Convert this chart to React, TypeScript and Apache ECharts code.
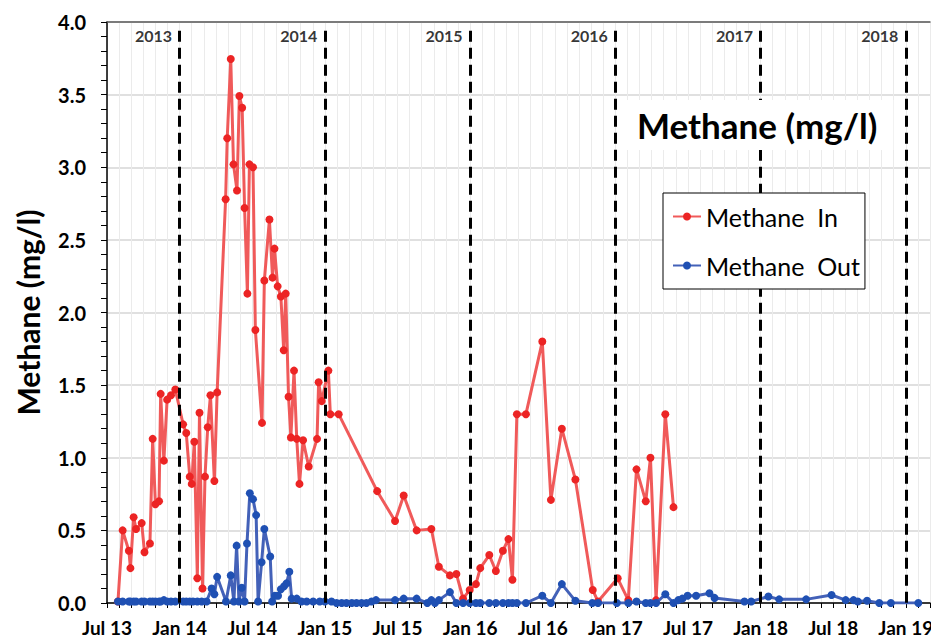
import React, { useEffect, useRef } from "react";
import * as echarts from "echarts";

// Methane In (red) sampling dates and values (mg/l)
const inDates = [
  "2013-07-29", "2013-08-10", "2013-08-26", "2013-08-30", "2013-09-07", "2013-09-13", "2013-09-27", "2013-10-04",
  "2013-10-18", "2013-10-25", "2013-11-01", "2013-11-10", "2013-11-14", "2013-11-22", "2013-11-30", "2013-12-10",
  "2013-12-21", "2014-01-10", "2014-01-18", "2014-01-27", "2014-02-01", "2014-02-07", "2014-02-14", "2014-02-19",
  "2014-02-26", "2014-03-04", "2014-03-11", "2014-03-18", "2014-03-28", "2014-04-04", "2014-04-25", "2014-04-29",
  "2014-05-08", "2014-05-15", "2014-05-24", "2014-05-30", "2014-06-06", "2014-06-12", "2014-06-19", "2014-06-24",
  "2014-07-03", "2014-07-09", "2014-07-26", "2014-08-01", "2014-08-14", "2014-08-22", "2014-08-27", "2014-09-04",
  "2014-09-12", "2014-09-19", "2014-09-24", "2014-10-01", "2014-10-07", "2014-10-15", "2014-10-22", "2014-10-29",
  "2014-11-07", "2014-11-21", "2014-12-12", "2014-12-16", "2014-12-24", "2015-01-10", "2015-01-15", "2015-02-05",
  "2015-05-11", "2015-06-25", "2015-07-17", "2015-08-19", "2015-09-25", "2015-10-14", "2015-11-11", "2015-11-27",
  "2015-12-14", "2015-12-31", "2016-01-16", "2016-01-27", "2016-02-18", "2016-03-05", "2016-03-23", "2016-04-06",
  "2016-04-16", "2016-04-27", "2016-05-20", "2016-06-30", "2016-07-22", "2016-08-19", "2016-09-22", "2016-11-05",
  "2016-11-18", "2017-01-07", "2017-02-03", "2017-02-22", "2017-03-17", "2017-03-29", "2017-04-12", "2017-05-05",
  "2017-05-26",
];
const inValues = [
  0.01, 0.5, 0.36, 0.24, 0.59, 0.51, 0.55, 0.35,
  0.41, 1.13, 0.68, 0.7, 1.44, 0.98, 1.4, 1.43,
  1.47, 1.23, 1.17, 0.87, 0.82, 1.11, 0.17, 1.31,
  0.1, 0.87, 1.21, 1.43, 0.84, 1.45, 2.78, 3.2,
  3.745, 3.02, 2.84, 3.49, 3.41, 2.72, 2.13, 3.02,
  3.0, 1.88, 1.24, 2.22, 2.64, 2.24, 2.44, 2.18,
  2.11, 1.74, 2.13, 1.42, 1.14, 1.6, 1.13, 0.82,
  1.12, 0.94, 1.13, 1.52, 1.39, 1.6, 1.3, 1.3,
  0.77, 0.565, 0.74, 0.5, 0.51, 0.25, 0.19, 0.2,
  0.03, 0.09, 0.13, 0.24, 0.33, 0.22, 0.36, 0.44,
  0.16, 1.3, 1.3, 1.8, 0.71, 1.2, 0.85, 0.09,
  0.01, 0.17, 0.02, 0.92, 0.7, 1.0, 0.02, 1.3,
  0.66,
];

// Methane Out (blue) sampling dates and values (mg/l)
const outDates = [
  "2013-07-29", "2013-08-10", "2013-08-26", "2013-08-30", "2013-09-07", "2013-09-13", "2013-09-27", "2013-10-04",
  "2013-10-18", "2013-10-25", "2013-11-01", "2013-11-10", "2013-11-14", "2013-11-22", "2013-11-30", "2013-12-10",
  "2013-12-21", "2014-01-10", "2014-01-18", "2014-01-27", "2014-02-04", "2014-02-14", "2014-02-24", "2014-03-08",
  "2014-03-21", "2014-03-28", "2014-04-04", "2014-04-26", "2014-05-08", "2014-05-16", "2014-05-23", "2014-05-29",
  "2014-06-05", "2014-06-12", "2014-06-18", "2014-06-25", "2014-07-03", "2014-07-11", "2014-07-16", "2014-07-25",
  "2014-08-01", "2014-08-16", "2014-08-21", "2014-08-28", "2014-09-05", "2014-09-12", "2014-09-20", "2014-09-26",
  "2014-10-03", "2014-10-09", "2014-10-22", "2014-11-03", "2014-11-16", "2014-12-02", "2014-12-19", "2015-01-01",
  "2015-01-18", "2015-01-31", "2015-02-12", "2015-02-23", "2015-03-08", "2015-03-20", "2015-04-02", "2015-04-14",
  "2015-04-27", "2015-05-08", "2015-06-25", "2015-07-17", "2015-08-19", "2015-09-15", "2015-09-25", "2015-10-04",
  "2015-10-14", "2015-11-11", "2015-11-27", "2015-12-14", "2015-12-31", "2016-01-16", "2016-01-27", "2016-02-18",
  "2016-03-05", "2016-03-23", "2016-04-06", "2016-04-16", "2016-04-27", "2016-05-20", "2016-06-30", "2016-07-22",
  "2016-08-19", "2016-09-22", "2016-11-04", "2016-11-18", "2017-01-05", "2017-02-03", "2017-02-22", "2017-03-17",
  "2017-03-29", "2017-04-12", "2017-05-05", "2017-05-26", "2017-06-07", "2017-06-17", "2017-06-30", "2017-07-22",
  "2017-08-25", "2017-09-07", "2017-11-21", "2017-12-08", "2018-01-21", "2018-02-16", "2018-04-24", "2018-06-27",
  "2018-08-02", "2018-08-22", "2018-09-02", "2018-09-25", "2018-10-26", "2018-11-24", "2019-02-02",
];
const outValues = [
  0.01, 0.01, 0.01, 0.01, 0.01, 0.01, 0.01, 0.01,
  0.01, 0.01, 0.01, 0.01, 0.01, 0.02, 0.01, 0.01,
  0.01, 0.01, 0.01, 0.01, 0.01, 0.01, 0.01, 0.01,
  0.1, 0.06, 0.18, 0.01, 0.19, 0.01, 0.395, 0.01,
  0.105, 0.01, 0.41, 0.755, 0.715, 0.605, 0.01, 0.28,
  0.51, 0.32, 0.01, 0.05, 0.05, 0.095, 0.115, 0.135,
  0.215, 0.03, 0.03, 0.01, 0.01, 0.01, 0.01, 0.01,
  0.01, 0.0, 0.0, 0.0, 0.0, 0.0, 0.0, 0.0,
  0.01, 0.02, 0.02, 0.03, 0.03, 0.0, 0.02, 0.0,
  0.02, 0.075, 0.0, 0.0, 0.0, 0.0, 0.0, 0.0,
  0.0, 0.0, 0.0, 0.0, 0.0, 0.0, 0.05, 0.0,
  0.13, 0.015, 0.0, 0.0, 0.0, 0.0, 0.01, 0.0,
  0.0, 0.0, 0.06, 0.0, 0.02, 0.03, 0.05, 0.05,
  0.067, 0.035, 0.01, 0.01, 0.045, 0.025, 0.025, 0.055,
  0.02, 0.02, 0.01, 0.015, 0.0, 0.0, 0.0,
];

// Year annotations: the label sits just left of each January boundary line
const yearLabels = ["2013", "2014", "2015", "2016", "2017", "2018"];
const yearBoundaries = ["2014-01-01", "2015-01-01", "2016-01-01", "2017-01-01", "2018-01-01", "2019-01-01"];

const seriesNames = ["Methane  In", "Methane  Out"];
const axisStart = "2013-07-01";
const axisEnd = "2019-03-01";

const FONT = "Lato";

// months elapsed since July 2013 (fractional)
function toMonth(s: string): number {
  const [y, m, d] = s.split("-").map(Number);
  const dim = new Date(y, m, 0).getDate();
  return (y - 2013) * 12 + (m - 7) + (d - 1) / dim;
}

function monthLabel(v: number): string {
  const idx = Math.round(v);
  if (idx % 6 !== 0) return "";
  const fromJan2013 = idx + 6;
  const year = 2013 + Math.floor(fromJan2013 / 12);
  const mon = fromJan2013 % 12 === 0 ? "Jan" : "Jul";
  return `${mon} ${String(year % 100).padStart(2, "0")}`;
}

export default function App() {
  const ref = useRef<HTMLDivElement>(null);

  useEffect(() => {
    if (!ref.current) return;
    const chart = echarts.init(ref.current, undefined, { renderer: "svg" });
    const xMin = toMonth(axisStart);
    const xMax = toMonth(axisEnd);

    const inData = inDates.map((d, i) => [toMonth(d), inValues[i]]);
    const outData = outDates.map((d, i) => [toMonth(d), outValues[i]]);
    const yearData = yearBoundaries.map((d, i) => [toMonth(d), 3.91, yearLabels[i]]);
    const boundaryLines = yearBoundaries.map((d) => [
      { coord: [toMonth(d), 3.94] },
      { coord: [toMonth(d), 0] },
    ]);

    chart.setOption({
      animation: false,
      backgroundColor: "#fff",
      textStyle: { fontFamily: FONT },
      title: {
        text: "Methane (mg/l)",
        left: 620,
        top: 100,
        padding: [4, 16, 4, 17],
        backgroundColor: "#fff",
        textStyle: { fontFamily: FONT, fontSize: 35, fontWeight: "bold", color: "#000", lineHeight: 42 },
        z: 10,
      },
      legend: {
        data: seriesNames,
        orient: "vertical",
        left: 663,
        top: 193,
        padding: [9, 5, 9, 9],
        itemGap: 20,
        itemWidth: 28,
        itemHeight: 10,
        backgroundColor: "#fff",
        borderColor: "#000",
        borderWidth: 1,
        textStyle: { fontFamily: FONT, fontSize: 25, color: "#000", lineHeight: 29 },
        z: 10,
      },
      grid: {
        left: 107,
        top: 22,
        width: 823,
        height: 581,
        containLabel: false,
        outerBoundsMode: "none",
      },
      xAxis: [
        {
          type: "value",
          min: xMin,
          max: xMax,
          interval: 1,
          axisLine: { show: true, onZero: false, lineStyle: { color: "#000", width: 1.5 } },
          axisTick: { show: true, length: 5, lineStyle: { color: "#000" } },
          axisLabel: {
            formatter: monthLabel,
            fontFamily: FONT,
            fontSize: 19,
            fontWeight: "bold",
            color: "#000",
            margin: 15,
          },
          splitLine: { show: true, lineStyle: { color: "#ebebeb", width: 1 } },
        },
        {
          type: "value",
          position: "top",
          min: xMin,
          max: xMax,
          axisLine: { show: true, onZero: false, lineStyle: { color: "#5a5a5a", width: 1.5 } },
          axisTick: { show: false },
          axisLabel: { show: false },
          splitLine: { show: false },
        },
      ],
      yAxis: {
        type: "value",
        min: 0,
        max: 4,
        interval: 0.5,
        name: "Methane (mg/l)",
        nameLocation: "middle",
        nameGap: 64,
        nameTextStyle: { fontFamily: FONT, fontSize: 30, fontWeight: "bold", color: "#000" },
        axisLine: { show: true, lineStyle: { color: "#000", width: 1.5 } },
        axisTick: { show: true, length: 6, lineStyle: { color: "#000" } },
        minorTick: { show: true, splitNumber: 5, length: 6, lineStyle: { color: "#000" } },
        axisLabel: {
          formatter: (v: number) => v.toFixed(1),
          fontFamily: FONT,
          fontSize: 20,
          fontWeight: "bold",
          color: "#000",
          margin: 21,
        },
        splitLine: { show: true, lineStyle: { color: "#d6d6d6", width: 1.5 } },
      },
      series: [
        {
          name: "years",
          type: "scatter",
          data: yearData,
          symbolSize: 1,
          itemStyle: { color: "rgba(0,0,0,0)" },
          silent: true,
          z: 1,
          label: {
            show: true,
            position: "left",
            distance: 7,
            formatter: (p: any) => p.value[2],
            fontFamily: FONT,
            fontSize: 16,
            fontWeight: "bold",
            color: "#000",
          },
          markLine: {
            silent: true,
            symbol: ["none", "none"],
            label: { show: false },
            lineStyle: { color: "#000", width: 3, type: [11, 6] },
            data: boundaryLines,
          },
        },
        {
          name: seriesNames[0],
          type: "line",
          data: inData,
          symbol: "circle",
          symbolSize: 8,
          z: 3,
          lineStyle: { color: "#f05a5a", width: 3 },
          itemStyle: { color: "#ec2424" },
        },
        {
          name: seriesNames[1],
          type: "line",
          data: outData,
          symbol: "circle",
          symbolSize: 8,
          z: 4,
          lineStyle: { color: "#4361b8", width: 3 },
          itemStyle: { color: "#1f50b3" },
        },
      ],
    });
    return () => chart.dispose();
  }, []);

  return (
    <div
      ref={ref}
      style={{ position: "fixed", left: 0, top: 0, width: 931, height: 639 }}
    />
  );
}
